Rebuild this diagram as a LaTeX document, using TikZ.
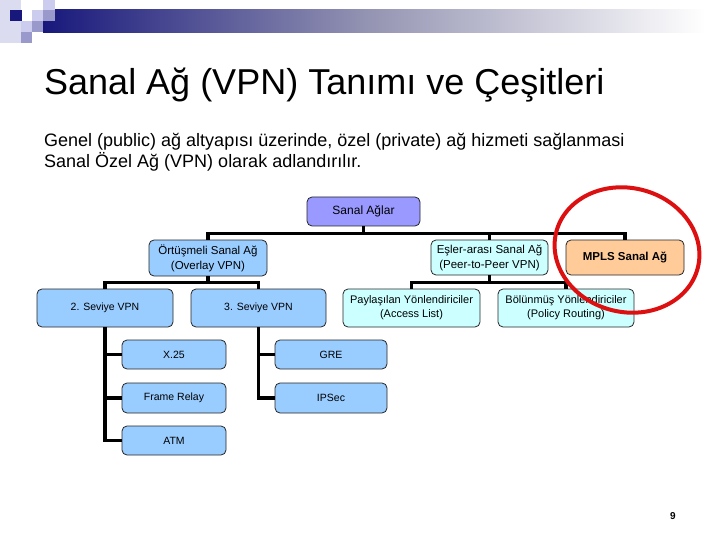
\documentclass[tikz,border=0pt]{standalone}
\usepackage{fontspec}
\setmainfont{Liberation Sans}
\definecolor{navy}{RGB}{24,24,124}
\definecolor{pale}{RGB}{220,220,240}
\definecolor{lav}{RGB}{204,204,238}
\definecolor{med}{RGB}{153,153,204}
\definecolor{topfill}{RGB}{153,153,255}
\definecolor{bluefill}{RGB}{153,204,255}
\definecolor{cyanfill}{RGB}{204,255,255}
\definecolor{peachfill}{RGB}{255,204,153}
\definecolor{ringred}{RGB}{220,16,16}
\tikzset{
  bx/.style={draw=black!85, line width=0.8pt, rounded corners=5pt, inner sep=1pt, align=center, text=black},
  tree/.style={line width=3.6pt, line join=miter, line cap=butt},
}
\begin{document}
\begin{tikzpicture}[x=1pt,y=-1pt]
\useasboundingbox (0,0) rectangle (720,540);
\fill[white] (0,0) rectangle (720,540);
% header decoration
\shade[left color=navy, right color=white, middle color={rgb,255:red,150;green,150;blue,180}] (43,10) rectangle (705,33);
\fill[white] (705,10) rectangle (720,33);
\fill[pale] (0,0) rectangle (21,43);
\fill[navy] (10,10) rectangle (22,21);
\fill[lav] (32,10) rectangle (43,21);
\fill[lav] (43,0) rectangle (55,10);
\fill[med] (43,10) rectangle (55,21);
\fill[lav] (21,21) rectangle (32,32);
\fill[med] (32,21) rectangle (43,32);
\fill[med] (21,32) rectangle (32,43);
% title and text
\node[anchor=base west, inner sep=0, font=\fontsize{36}{40}\selectfont] (title) at (44,95) {Sanal Ağ (VPN) Tanımı ve Çeşitleri};
\node[anchor=base west, inner sep=0, font=\fontsize{18}{21}\selectfont] (line1) at (44,147) {Genel (public) ağ altyapısı üzerinde, özel (private) ağ hizmeti sağlanmasi};
\node[anchor=base west, inner sep=0, font=\fontsize{18}{21}\selectfont] (line2) at (44,168) {Sanal Özel Ağ (VPN) olarak adlandırılır.};
% boxes
\node[bx, fill=topfill, minimum width=113pt, minimum height=29pt, font=\fontsize{12}{14}\selectfont] (sanal) at (363.5,211.5) {Sanal Ağlar};
\node[bx, fill=bluefill, minimum width=118pt, minimum height=36pt, font=\fontsize{11.5}{15}\selectfont] (overlay) at (208,258) {Örtüşmeli Sanal Ağ\\(Overlay VPN)};
\node[bx, fill=cyanfill, minimum width=117pt, minimum height=35pt, font=\fontsize{11.5}{15}\selectfont] (peer) at (489.5,257.5) {Eşler-arası Sanal Ağ\\(Peer-to-Peer VPN)};
\node[bx, fill=peachfill, minimum width=118pt, minimum height=35pt, font=\bfseries\fontsize{11.5}{14}\selectfont] (mpls) at (625,257.5) {MPLS Sanal Ağ};
\node[bx, fill=bluefill, minimum width=136pt, minimum height=38pt, font=\fontsize{10.5}{13}\selectfont] (sev2) at (105,308) {2. Seviye VPN};
\node[bx, fill=bluefill, minimum width=135pt, minimum height=38pt, font=\fontsize{10.5}{13}\selectfont] (sev3) at (258.5,308) {3. Seviye VPN};
\node[bx, fill=cyanfill, minimum width=137pt, minimum height=38pt, font=\fontsize{11}{14}\selectfont] (shared) at (411.5,308) {Paylaşılan Yönlendiriciler\\(Access List)};
\node[bx, fill=cyanfill, minimum width=136pt, minimum height=38pt, font=\fontsize{11}{14}\selectfont] (split) at (566,308) {Bölünmüş Yönlendiriciler\\(Policy Routing)};
\node[bx, fill=bluefill, minimum width=104pt, minimum height=29pt, font=\fontsize{10.5}{13}\selectfont] (x25) at (174,354.5) {X.25};
\node[bx, fill=bluefill, minimum width=104pt, minimum height=30pt, font=\fontsize{10.5}{13}\selectfont] (frame) at (174,398) {Frame Relay};
\node[bx, fill=bluefill, minimum width=104pt, minimum height=29pt, font=\fontsize{10.5}{13}\selectfont] (atm) at (174,440.5) {ATM};
\node[bx, fill=bluefill, minimum width=112pt, minimum height=29pt, font=\fontsize{10.5}{13}\selectfont] (gre) at (331,354.5) {GRE};
\node[bx, fill=bluefill, minimum width=112pt, minimum height=30pt, font=\fontsize{10.5}{13}\selectfont] (ipsec) at (331,398) {IPSec};
% connectors
\path (sanal.south) ++(0,7) coordinate (b1);
\draw[tree] (sanal.south) -- (b1);
\draw[tree] (overlay.north) |- (b1) -| (mpls.north);
\draw[tree] (peer.north) -- (peer.north |- b1);
\path (overlay.south) ++(0,6) coordinate (b2);
\draw[tree] (overlay.south) -- (b2);
\draw[tree] (sev2.north) |- (b2) -| (sev3.north);
\path (peer.south) ++(0,7) coordinate (b3);
\draw[tree] (peer.south) -- (b3);
\draw[tree] (shared.north) |- (b3) -| (split.north);
\draw[tree] (sev2.south) |- (atm.west);
\draw[tree] (x25.west) -- (x25.west -| sev2.south);
\draw[tree] (frame.west) -- (frame.west -| sev2.south);
\draw[tree] (sev3.south) |- (ipsec.west);
\draw[tree] (gre.west) -- (gre.west -| sev3.south);
% red ring
\draw[ringred, line width=4pt] (627,250) ellipse[x radius=73, y radius=62, rotate=-14];
% page number
\node[font=\bfseries\fontsize{10}{12}\selectfont, inner sep=0] (pnum) at (673,516.5) {9};
\end{tikzpicture}
\end{document}
